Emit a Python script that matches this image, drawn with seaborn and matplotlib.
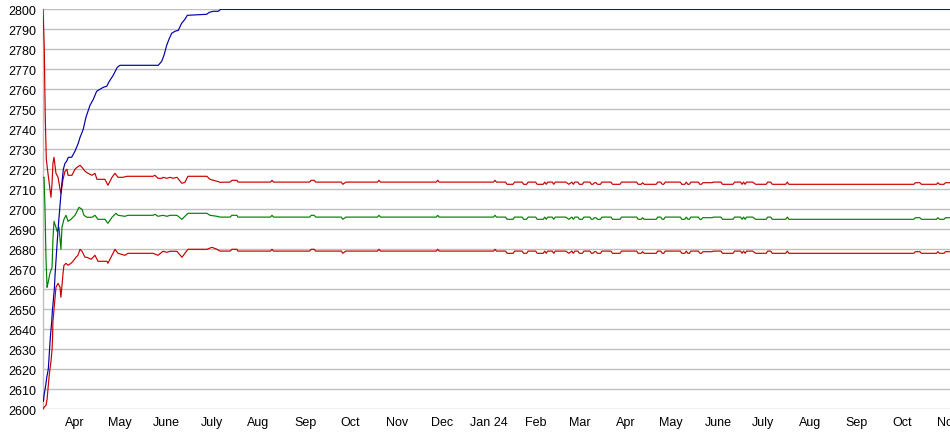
import numpy as np
import pandas as pd
import matplotlib
matplotlib.use("Agg")
import matplotlib.pyplot as plt
import seaborn as sns

START = pd.Timestamp("2023-03-25")

# ---- top (blue) line: days since START, values ----
top_days = [0, 0.3, 0.7, 1.8, 2.5, 3.5, 4.2, 4.6, 5.1, 5.8, 6.2, 6.8, 7.5, 8.0, 9.1, 10.2, 11.3,
            12.4, 13.5, 14.6, 15.7, 16.8, 19.0, 21.2, 23.4, 24.6, 26.7, 28.5, 31.2, 33.4, 35.6,
            37.8, 40.0, 42.3, 44.0, 46.6, 49.3, 51.1, 76.5, 78.8, 80.3, 82.1, 83.6, 85.4, 87.6,
            89.8, 92.0, 94.2, 95.8, 108.6, 110.4, 113.0, 116.3, 117.9, 602]
top_vals = [2604, 2604, 2607, 2612, 2616, 2620, 2628, 2633, 2638, 2644, 2649, 2654, 2660, 2667,
            2680, 2692, 2702, 2712, 2720, 2723, 2724, 2726, 2726, 2729, 2733, 2736, 2740, 2746,
            2752, 2755, 2759, 2760, 2761, 2761.5, 2764, 2767, 2771, 2772, 2772, 2774, 2777, 2782,
            2785, 2788, 2789, 2789.5, 2793, 2795, 2797, 2797.5, 2798.5, 2799, 2799, 2800, 2800]

# ---- early part of the band lines ----
upper_early_days = [0, 0.8, 1.5, 2.2, 3.3, 5.3, 6.0, 6.6, 7.3, 8.6, 10.0, 11.3, 11.9, 13.3, 14.6,
                    15.9, 16.6, 19.2, 21.2, 22.6, 24.6, 25.9, 27.9, 29.9, 32.5, 34.5, 35.8, 41.1,
                    43.1, 45.8, 47.8, 49.8, 53.1, 55.7, 73.0, 74.3, 76.3, 79.0, 79.6, 82.3, 84.3,
                    86.3, 88.9, 92.2, 94.2, 96.2, 108.8, 110.8, 115.5, 117.5, 124.1, 125.4, 128.7,
                    129.4]
upper_early_vals = [2800, 2782, 2746, 2725, 2718, 2706, 2713, 2723, 2726, 2718, 2716, 2710, 2708,
                    2715, 2719, 2720, 2717, 2717, 2720, 2721, 2722, 2721, 2719, 2718, 2717, 2718,
                    2715, 2715, 2712, 2716, 2718, 2716, 2716, 2716.5, 2716.5, 2717, 2715.5, 2715.5,
                    2716, 2715.5, 2716, 2715.5, 2716, 2713, 2713.5, 2716.5, 2716.5, 2715, 2714,
                    2713.5, 2713.6, 2714.5, 2714.5, 2713.6]

mid_early_days = [0, 0.7, 1.3, 2.0, 2.7, 3.3, 4.6, 6.0, 6.6, 7.3, 8.6, 9.3, 10.6, 11.9, 12.6, 13.9,
                  15.3, 16.6, 18.6, 19.9, 21.2, 22.6, 23.9, 25.9, 27.2, 29.2, 32.5, 34.5, 36.5,
                  41.1, 43.1, 45.8, 48.4, 49.8, 54.4, 56.4, 73.0, 74.3, 76.3, 79.6, 82.3, 84.3,
                  88.9, 92.2, 96.2, 108.8, 110.8, 115.5, 117.5, 124.1, 125.4, 128.7, 129.4]
mid_early_vals = [2716, 2716, 2701, 2675, 2661, 2663, 2668, 2671, 2685, 2694, 2691, 2689, 2691,
                  2680, 2691, 2695, 2697, 2694, 2695, 2696, 2697, 2699, 2701, 2700, 2697, 2696,
                  2696, 2697, 2695, 2695, 2693, 2696, 2698, 2697, 2696.5, 2697, 2697, 2697.5,
                  2696.5, 2697, 2696.5, 2697, 2697, 2695, 2698, 2698, 2697, 2696.5, 2696.1,
                  2696.1, 2697, 2697, 2696.1]

lower_early_days = [0, 0.7, 2.0, 2.7, 3.3, 4.0, 4.6, 5.3, 6.0, 6.3, 6.6, 7.3, 8.0, 8.3, 8.6, 10.0,
                    11.3, 11.9, 13.3, 13.9, 15.3, 16.6, 18.6, 19.9, 21.9, 23.2, 24.6, 25.9, 27.9,
                    29.2, 31.9, 33.2, 34.5, 36.5, 42.5, 43.1, 45.8, 47.8, 49.8, 54.4, 56.4, 73.0,
                    76.3, 79.6, 82.3, 84.3, 88.9, 92.2, 96.2, 108.8, 112.1, 115.5, 117.5, 124.1,
                    125.4, 128.7, 129.4]
lower_early_vals = [2600, 2601, 2602, 2605, 2610, 2616, 2620, 2624, 2630, 2635, 2644, 2650, 2656,
                    2658, 2661, 2663, 2661, 2656, 2668, 2672, 2673, 2672, 2673, 2674, 2676, 2677,
                    2680, 2679, 2676, 2676, 2675, 2676, 2677, 2674, 2674, 2673, 2677, 2680, 2678,
                    2677, 2678, 2678, 2677, 2679, 2678.5, 2679, 2679, 2676, 2680, 2680, 2681,
                    2680, 2679.1, 2679.1, 2680, 2680, 2679.1]

# ---- later part (shared sampling days) ----
late_days = [131, 151, 152, 153, 177, 178, 180, 181, 198, 199,
             201, 222, 223, 224, 261, 262, 263, 299, 300, 301,
             307, 308, 312, 313, 318, 319, 321, 322, 327, 328,
             332, 333, 334, 335, 338, 339, 340, 347, 349, 351,
             352, 353, 355, 356, 358, 359, 363, 364, 365, 366,
             367, 368, 370, 371, 377, 378, 383, 384, 394, 395,
             397, 398, 399, 407, 408, 410, 411, 412, 413, 423,
             424, 426, 427, 428, 429, 430, 435, 436, 437, 438,
             444, 445, 450, 451, 458, 459, 463, 464, 465, 466,
             467, 471, 473, 480, 481, 483, 484, 493, 494, 495,
             578, 579, 582, 583, 593, 594, 595, 598, 599, 602]
upper_late = [2713.6, 2713.6, 2714.5, 2713.6, 2713.6, 2714.5, 2714.5, 2713.6, 2713.6, 2712.5,
              2713.6, 2713.6, 2714.5, 2713.6, 2713.6, 2714.5, 2713.6, 2713.6, 2714.5, 2713.6,
              2713.6, 2712.5, 2712.5, 2713.6, 2713.6, 2712.5, 2712.5, 2713.6, 2713.6, 2712.5,
              2712.5, 2713.6, 2712.5, 2713.6, 2713.6, 2712.5, 2713.6, 2713.6, 2712.5, 2713.6,
              2712.5, 2713.6, 2713.6, 2712.5, 2712.5, 2713.6, 2713.6, 2712.5, 2712.5, 2713.3,
              2713.3, 2712.5, 2712.5, 2713.6, 2713.6, 2712.5, 2712.5, 2713.6, 2713.6, 2712.5,
              2712.5, 2713.3, 2712.5, 2712.5, 2713.6, 2713.6, 2712.5, 2712.5, 2713.6, 2713.6,
              2712.5, 2712.5, 2713.6, 2712.5, 2712.5, 2713.6, 2713.6, 2712.5, 2712.5, 2713.3,
              2713.3, 2713.6, 2713.6, 2712.5, 2712.5, 2713.6, 2713.6, 2712.5, 2713.6, 2712.5,
              2713.6, 2713.6, 2712.5, 2712.5, 2713.6, 2713.6, 2712.5, 2712.5, 2713.6, 2712.5,
              2712.5, 2713.3, 2713.3, 2712.5, 2712.5, 2713.3, 2712.5, 2712.5, 2713.3, 2713.3]
mid_late = [2696.1, 2696.1, 2697.0, 2696.1, 2696.1, 2697.0, 2697.0, 2696.1, 2696.1, 2695.0,
            2696.1, 2696.1, 2697.0, 2696.1, 2696.1, 2697.0, 2696.1, 2696.1, 2697.0, 2696.1,
            2696.1, 2695.0, 2695.0, 2696.1, 2696.1, 2695.0, 2695.0, 2696.1, 2696.1, 2695.0,
            2695.0, 2696.1, 2695.0, 2696.1, 2696.1, 2695.0, 2696.1, 2696.1, 2695.0, 2696.1,
            2695.0, 2696.1, 2696.1, 2695.0, 2695.0, 2696.1, 2696.1, 2695.0, 2695.0, 2695.8,
            2695.8, 2695.0, 2695.0, 2696.1, 2696.1, 2695.0, 2695.0, 2696.1, 2696.1, 2695.0,
            2695.0, 2695.8, 2695.0, 2695.0, 2696.1, 2696.1, 2695.0, 2695.0, 2696.1, 2696.1,
            2695.0, 2695.0, 2696.1, 2695.0, 2695.0, 2696.1, 2696.1, 2695.0, 2695.0, 2695.8,
            2695.8, 2696.1, 2696.1, 2695.0, 2695.0, 2696.1, 2696.1, 2695.0, 2696.1, 2695.0,
            2696.1, 2696.1, 2695.0, 2695.0, 2696.1, 2696.1, 2695.0, 2695.0, 2696.1, 2695.0,
            2695.0, 2695.8, 2695.8, 2695.0, 2695.0, 2695.8, 2695.0, 2695.0, 2695.8, 2695.8]
lower_late = [2679.1, 2679.1, 2680.0, 2679.1, 2679.1, 2680.0, 2680.0, 2679.1, 2679.1, 2678.0,
              2679.1, 2679.1, 2680.0, 2679.1, 2679.1, 2680.0, 2679.1, 2679.1, 2680.0, 2679.1,
              2679.1, 2678.0, 2678.0, 2679.1, 2679.1, 2678.0, 2678.0, 2679.1, 2679.1, 2678.0,
              2678.0, 2679.1, 2678.0, 2679.1, 2679.1, 2678.0, 2679.1, 2679.1, 2678.0, 2679.1,
              2678.0, 2679.1, 2679.1, 2678.0, 2678.0, 2679.1, 2679.1, 2678.0, 2678.0, 2678.8,
              2678.8, 2678.0, 2678.0, 2679.1, 2679.1, 2678.0, 2678.0, 2679.1, 2679.1, 2678.0,
              2678.0, 2678.8, 2678.0, 2678.0, 2679.1, 2679.1, 2678.0, 2678.0, 2679.1, 2679.1,
              2678.0, 2678.0, 2679.1, 2678.0, 2678.0, 2679.1, 2679.1, 2678.0, 2678.0, 2678.8,
              2678.8, 2679.1, 2679.1, 2678.0, 2678.0, 2679.1, 2679.1, 2678.0, 2679.1, 2678.0,
              2679.1, 2679.1, 2678.0, 2678.0, 2679.1, 2679.1, 2678.0, 2678.0, 2679.1, 2678.0,
              2678.0, 2678.8, 2678.8, 2678.0, 2678.0, 2678.8, 2678.0, 2678.0, 2678.8, 2678.8]

month_labels = ["Apr", "May", "June", "July", "Aug", "Sep", "Oct", "Nov", "Dec", "Jan 24",
                "Feb", "Mar", "Apr", "May", "June", "July", "Aug", "Sep", "Oct", "Nov"]
y_ticks = list(range(2600, 2801, 10))


def to_dates(days):
    return START + pd.to_timedelta(np.asarray(days, dtype=float), unit="D")


def frame(days, vals):
    return pd.DataFrame({"date": to_dates(days), "value": vals})


sns.set_style("white")
plt.rcParams["font.family"] = ["Liberation Sans", "DejaVu Sans"]

fig = plt.figure(figsize=(9.5, 4.35), dpi=100)
ax = fig.add_axes([43 / 950, 1 - 410.3 / 435, (950 - 43) / 950, 400 / 435])

upper = frame(upper_early_days + late_days, upper_early_vals + upper_late)
mid = frame(mid_early_days + late_days, mid_early_vals + mid_late)
lower = frame(lower_early_days + late_days, lower_early_vals + lower_late)
top = frame(top_days, top_vals)

lw = 0.85
sns.lineplot(data=mid, x="date", y="value", ax=ax, color="#008000", lw=lw, estimator=None, zorder=3)
sns.lineplot(data=lower, x="date", y="value", ax=ax, color="#c80000", lw=lw, estimator=None, zorder=3)
sns.lineplot(data=upper, x="date", y="value", ax=ax, color="#c80000", lw=lw, estimator=None, zorder=3)
sns.lineplot(data=top, x="date", y="value", ax=ax, color="#0000a8", lw=lw, estimator=None, zorder=4)

ax.set_yticks(y_ticks)
ax.set_yticklabels([str(v) for v in y_ticks])
tick_dates = pd.date_range("2023-04-01", periods=len(month_labels), freq="MS") + pd.Timedelta(days=14)
ax.set_xticks(tick_dates)
ax.set_xticklabels(month_labels)
ax.set_ylim(2600, 2800)
ax.set_xlim(to_dates([0])[0], to_dates([602])[0])

ax.grid(axis="y", color="#c0c0c0", lw=1.0, zorder=0)
ax.grid(axis="x", visible=False)
ax.set_axisbelow(True)
ax.tick_params(axis="both", length=0, labelsize=9, labelcolor="#000000")
ax.tick_params(axis="y", pad=5)
ax.tick_params(axis="x", pad=5)
ax.set_xlabel("")
ax.set_ylabel("")
for side in ["top", "right", "bottom"]:
    ax.spines[side].set_visible(False)
ax.spines["left"].set_color("#c0c0c0")
ax.spines["left"].set_linewidth(1.0)

fig.savefig("out.png", dpi=100)
